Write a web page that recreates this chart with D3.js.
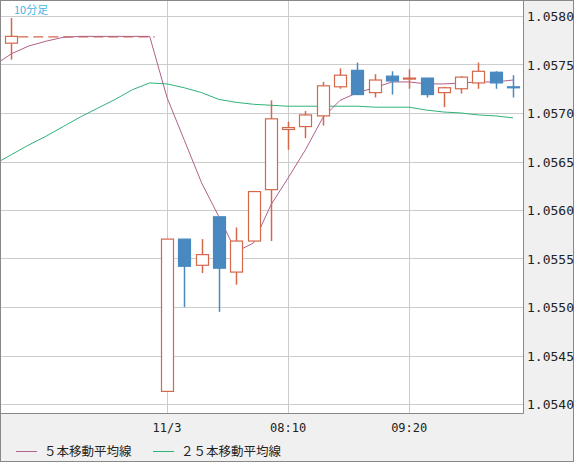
<!DOCTYPE html>
<html><head><meta charset="utf-8">
<script src="https://cdn.jsdelivr.net/npm/d3@7"></script>
<style>body{margin:0;background:#f0f0f0}</style>
</head><body><div id="viz"></div>
<script>
// candles: index, open, high, low, close (10 min bars, index 0 = 11/3)
let candleIdx = [-9, 0, 1, 2, 3, 4, 5, 6, 7, 8, 9, 10, 11, 12, 13, 14, 15, 16, 17, 18, 19, 20]
let opens  = [1.05772, 1.05413, 1.05570, 1.05543, 1.05593, 1.05536, 1.05568, 1.05621, 1.05683, 1.05686, 1.05697, 1.05727, 1.05744, 1.05721, 1.05738, 1.05735, 1.05736, 1.05721, 1.05725, 1.05731, 1.05742, 1.05727]
let highs  = [1.05798, 1.05570, 1.05570, 1.05570, 1.05593, 1.05582, 1.05619, 1.05713, 1.05691, 1.05702, 1.05732, 1.05746, 1.05752, 1.05740, 1.05743, 1.05745, 1.05736, 1.05727, 1.05738, 1.05752, 1.05743, 1.05739]
let lows   = [1.05755, 1.05413, 1.05500, 1.05535, 1.05495, 1.05523, 1.05568, 1.05568, 1.05662, 1.05674, 1.05687, 1.05725, 1.05719, 1.05716, 1.05719, 1.05725, 1.05716, 1.05706, 1.05720, 1.05725, 1.05725, 1.05716]
let closes = [1.05779, 1.05570, 1.05542, 1.05554, 1.05540, 1.05568, 1.05619, 1.05694, 1.05685, 1.05698, 1.05728, 1.05739, 1.05719, 1.05734, 1.05733, 1.05736, 1.05719, 1.05726, 1.05737, 1.05743, 1.05731, 1.05726]

// moving averages, index -10 .. 20
let maIdx = d3.range(-10, 21)
let ma5  = [1.05749, 1.05761, 1.05769, 1.05774, 1.05778, 1.05779, 1.05779, 1.05779, 1.05779, 1.05779, 1.05716, 1.05672, 1.05628, 1.05593, 1.05557, 1.05566, 1.05605, 1.05633, 1.05662, 1.05695, 1.05713, 1.05721, 1.05726, 1.05732, 1.05732, 1.05730, 1.05730, 1.05731, 1.05732, 1.05732, 1.05734]
let ma25 = [1.05647, 1.05657, 1.05667, 1.05676, 1.05686, 1.05696, 1.05705, 1.05714, 1.05724, 1.05731, 1.05730, 1.05726, 1.05721, 1.05714, 1.05711, 1.05709, 1.05708, 1.05707, 1.05707, 1.05707, 1.05707, 1.05707, 1.05706, 1.05706, 1.05706, 1.05703, 1.05701, 1.05700, 1.05698, 1.05697, 1.05695]

let yTicks = [1.0540, 1.0545, 1.0550, 1.0555, 1.0560, 1.0565, 1.0570, 1.0575, 1.0580]
let xTickIdx = [0, 7, 14]
let xTickLabels = ["11/3", "08:10", "09:20"]

let w = 574, h = 462
let upColor = "#d5674a", downColor = "#4a89bf"

const svg = d3.select("#viz").append("svg").attr("width", w).attr("height", h)
  .style("font-family", "'DejaVu Sans Mono', monospace")

svg.append("rect").attr("x", 0.5).attr("y", 0.5).attr("width", w - 1).attr("height", h - 1)
  .attr("fill", "#f0f0f0").attr("stroke", "#888")
svg.append("rect").attr("x", 1).attr("y", 1).attr("width", 522).attr("height", 412)
  .attr("fill", "#fff")

const xScale = d3.scaleLinear().domain([0, 1]).range([167, 184.3])
const yScale = d3.scaleLinear().domain([1.0540, 1.0580]).range([404, 16])

svg.append("clipPath").attr("id", "clip").append("rect")
  .attr("x", 1).attr("y", 1).attr("width", 522).attr("height", 412)

let grid = svg.append("g")
grid.selectAll(".hg").data(yTicks).enter().append("line")
  .attr("x1", 1).attr("x2", 523)
  .attr("y1", d => Math.round(yScale(d)) + 0.5).attr("y2", d => Math.round(yScale(d)) + 0.5)
  .attr("stroke", "#ccc")
grid.selectAll(".vg").data(xTickIdx).enter().append("line")
  .attr("x1", d => Math.round(xScale(d)) + 0.5).attr("x2", d => Math.round(xScale(d)) + 0.5)
  .attr("y1", 1).attr("y2", 413)
  .attr("stroke", "#ccc")

// axes frame
svg.append("line").attr("x1", 523.5).attr("x2", 523.5).attr("y1", 0).attr("y2", 413.5).attr("stroke", "#888")
svg.append("line").attr("x1", 0).attr("x2", 523.5).attr("y1", 413.5).attr("y2", 413.5).attr("stroke", "#888")

svg.selectAll(".yl").data(yTicks).enter().append("text")
  .attr("x", 527).attr("y", d => yScale(d) + 5)
  .attr("font-size", 13).attr("fill", "#222")
  .text(d => d.toFixed(4))

svg.selectAll(".xl").data(xTickIdx).enter().append("text")
  .attr("x", d => xScale(d)).attr("y", 432).attr("text-anchor", "middle")
  .attr("font-size", 12).attr("fill", "#222")
  .text((d, i) => xTickLabels[i])

let plot = svg.append("g").attr("clip-path", "url(#clip)")

// gap filler from last close before the weekend
plot.append("line")
  .attr("x1", xScale(-9) + 7).attr("x2", xScale(-1) + 5)
  .attr("y1", yScale(closes[0]) + 0.5).attr("y2", yScale(closes[0]) + 0.5)
  .attr("stroke", upColor).attr("stroke-width", 1.2).attr("stroke-dasharray", "10,5")

let line = d3.line().x(d => xScale(d[0])).y(d => yScale(d[1]))
plot.append("path").datum(maIdx.map((d, i) => [d, ma25[i]])).attr("d", line)
  .attr("fill", "none").attr("stroke", "#2fb37a").attr("stroke-width", 1)
plot.append("path").datum(maIdx.map((d, i) => [d, ma5[i]])).attr("d", line)
  .attr("fill", "none").attr("stroke", "#b0608a").attr("stroke-width", 1)

let candles = candleIdx.map((d, i) => ({i: d, o: opens[i], h: highs[i], l: lows[i], c: closes[i]}))
let cg = plot.selectAll(".c").data(candles).enter().append("g")
cg.append("line")
  .attr("x1", d => Math.round(xScale(d.i)) + 0.5).attr("x2", d => Math.round(xScale(d.i)) + 0.5)
  .attr("y1", d => yScale(d.h)).attr("y2", d => yScale(d.l))
  .attr("stroke", d => d.c >= d.o ? upColor : downColor).attr("stroke-width", 1.5)
cg.append("rect")
  .attr("x", d => Math.round(xScale(d.i)) - 5.5)
  .attr("width", 12)
  .attr("y", d => yScale(Math.max(d.o, d.c)))
  .attr("height", d => Math.max(1, yScale(Math.min(d.o, d.c)) - yScale(Math.max(d.o, d.c))))
  .attr("fill", d => d.c >= d.o ? "#fff" : downColor)
  .attr("stroke", d => d.c >= d.o ? upColor : downColor).attr("stroke-width", 1.2)

svg.append("text").attr("x", 14).attr("y", 14).attr("font-size", 11)
  .attr("fill", "#3fb6e6").style("font-family", "'Noto Sans CJK JP', sans-serif").text("10分足")

// legend
let legend = [["５本移動平均線", "#b0608a", 16], ["２５本移動平均線", "#2fb37a", 153]]
legend.forEach(l => {
  svg.append("line").attr("x1", l[2]).attr("x2", l[2] + 21).attr("y1", 451.5).attr("y2", 451.5).attr("stroke", l[1])
  svg.append("text").attr("x", l[2] + 28).attr("y", 456).attr("font-size", 12.5).attr("fill", "#222")
    .style("font-family", "'Noto Sans CJK JP', sans-serif").text(l[0])
})
</script></body></html>
